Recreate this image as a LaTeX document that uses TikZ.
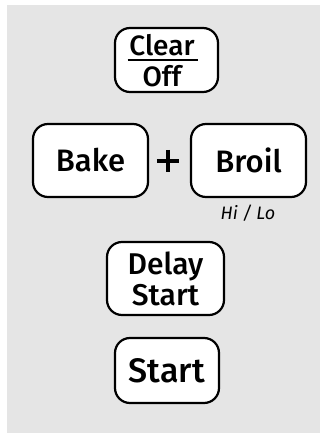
\documentclass[tikz,border=0pt]{standalone}
\usepackage{fontspec}
\newfontfamily\btnfont{Fira Sans Medium}
\newfontfamily\smallfont{Fira Sans}
\definecolor{panel}{HTML}{E5E5E5}
\tikzset{
  btn/.style={draw=black, line width=2.2pt, fill=white, rounded corners=15pt, inner sep=0pt},
  lbl/.style={font=\btnfont\fontsize{28}{29}\selectfont, inner sep=0pt, anchor=center},
  lblb/.style={font=\btnfont\fontsize{31}{32}\selectfont, inner sep=0pt, align=center},
  plusbar/.style={line width=3.2pt},
}
\begin{document}
\begin{tikzpicture}[x=1pt,y=-1pt]
\useasboundingbox (0,0) rectangle (320,433);
\fill[panel] (7,5) rectangle (320,433);
% Clear / Off
\node[btn, minimum width=103pt, minimum height=64pt] (clear) at (166.5,60) {};
\node[lbl] (cleartxt) at (162,45) {Clear};
\node[lbl] (offtxt) at (162,76) {Off};
\draw[line width=2pt] ([xshift=-39pt]clear.center) -- ([xshift=31pt]clear.center);
% Bake + Broil
\node[btn, minimum width=115pt, minimum height=73pt, lblb] (bake) at (90.5,160.5) {Bake};
\node[btn, minimum width=115pt, minimum height=73pt, lblb] (broil) at (248.5,160.5) {Broil};
\node[minimum size=22pt, inner sep=0pt] (plus) at (168,161) {};
\draw[plusbar] (plus.west) -- (plus.east);
\draw[plusbar] (plus.north) -- (plus.south);
\node[font=\smallfont\itshape\fontsize{18}{19}\selectfont, inner sep=0pt] (hilo) at (248,213) {Hi / Lo};
% Delay Start
\node[btn, minimum width=117pt, minimum height=73pt, lblb, font=\btnfont\fontsize{30}{31}\selectfont] (delay) at (165.5,278.5) {Delay\\Start};
% Start
\node[btn, minimum width=104pt, minimum height=65pt, lblb, font=\btnfont\fontsize{34}{34}\selectfont] (start) at (167,370.5) {Start};
\end{tikzpicture}
\end{document}
